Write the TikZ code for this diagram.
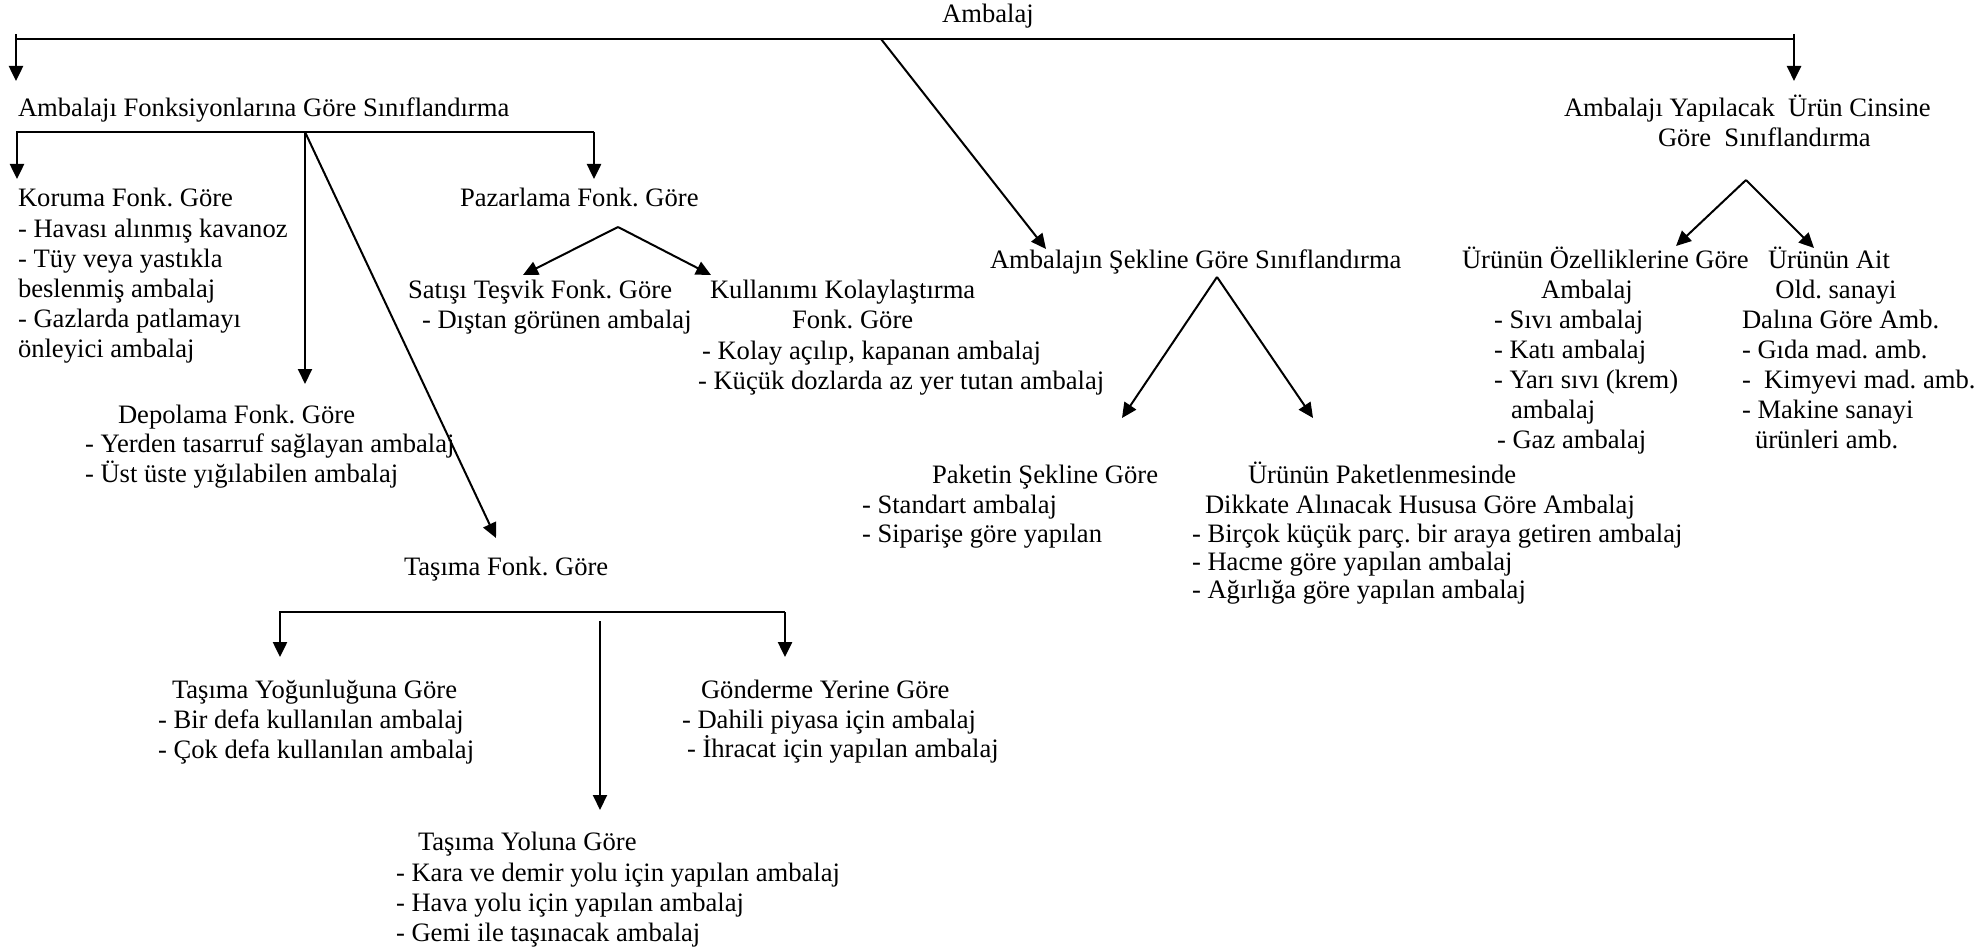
\documentclass[tikz,border=0pt]{standalone}
\usepackage{fontspec}
\setmainfont{Liberation Serif}
\usetikzlibrary{arrows.meta}
\begin{document}
\begin{tikzpicture}[x=1pt,y=-1pt,
  txt/.style={inner sep=0pt,outer sep=0pt,anchor=base west,font=\fontsize{26.6}{30}\selectfont\frenchspacing},
  ctxt/.style={txt,anchor=base},
  conn/.style={line width=2.5pt,line join=miter},
  diag/.style={line width=2pt},
  tip/.style={-{Triangle[length=15pt,width=14pt]}}]
\useasboundingbox (0,0) rectangle (1977,952);
% ---------- texts ----------
\node[ctxt] (root) at (988,23) {Ambalaj};
\node[txt] (fonk) at (18,117) {Ambalajı Fonksiyonlarına Göre Sınıflandırma};
\node[txt] (cins1) at (1564,117) {Ambalajı Yapılacak~ Ürün Cinsine};
\node[txt] (cins2) at (1658,147) {Göre~ Sınıflandırma};
\node[txt] (sekil) at (990,268) {Ambalajın Şekline Göre Sınıflandırma};
% Koruma
\node[txt] (kor1) at (18,207) {Koruma Fonk. Göre};
\node[txt] (kor2) at (18,237) {- Havası alınmış kavanoz};
\node[txt] (kor3) at (18,267) {- Tüy veya yastıkla};
\node[txt] (kor4) at (18,297) {beslenmiş ambalaj};
\node[txt] (kor5) at (18,327) {- Gazlarda patlamayı};
\node[txt] (kor6) at (18,357) {önleyici ambalaj};
% Pazarlama
\node[txt] (paz) at (460,207) {Pazarlama Fonk. Göre};
\node[txt] (sat1) at (408,298) {Satışı Teşvik Fonk. Göre};
\node[txt] (sat2) at (422,328) {- Dıştan görünen ambalaj};
\node[txt] (kul1) at (710,298) {Kullanımı Kolaylaştırma};
\node[txt] (kul2) at (792,328) {Fonk. Göre};
\node[txt] (kul3) at (702,359) {- Kolay açılıp, kapanan ambalaj};
\node[txt] (kul4) at (698,389) {- Küçük dozlarda az yer tutan ambalaj};
% Depolama
\node[txt] (dep1) at (118,423) {Depolama Fonk. Göre};
\node[txt] (dep2) at (85,452) {- Yerden tasarruf sağlayan ambalaj};
\node[txt] (dep3) at (85,482) {- Üst üste yığılabilen ambalaj};
% Tasima
\node[txt] (tas) at (404,575) {Taşıma Fonk. Göre};
\node[txt] (yog1) at (172,698) {Taşıma Yoğunluğuna Göre};
\node[txt] (yog2) at (158,728) {- Bir defa kullanılan ambalaj};
\node[txt] (yog3) at (158,758) {- Çok defa kullanılan ambalaj};
\node[txt] (gon1) at (701,698) {Gönderme Yerine Göre};
\node[txt] (gon2) at (682,728) {- Dahili piyasa için ambalaj};
\node[txt] (gon3) at (687,757) {- İhracat için yapılan ambalaj};
\node[txt] (yol1) at (418,850) {Taşıma Yoluna Göre};
\node[txt] (yol2) at (396,881) {- Kara ve demir yolu için yapılan ambalaj};
\node[txt] (yol3) at (396,911) {- Hava yolu için yapılan ambalaj};
\node[txt] (yol4) at (396,941) {- Gemi ile taşınacak ambalaj};
% Sekil
\node[txt] (pak1) at (932,483) {Paketin Şekline Göre};
\node[txt] (pak2) at (862,513) {- Standart ambalaj};
\node[txt] (pak3) at (862,542) {- Siparişe göre yapılan};
\node[txt] (dik1) at (1248,483) {Ürünün Paketlenmesinde};
\node[txt] (dik2) at (1205,513) {Dikkate Alınacak Hususa Göre Ambalaj};
\node[txt] (dik3) at (1192,542) {- Birçok küçük parç. bir araya getiren ambalaj};
\node[txt] (dik4) at (1192,570) {- Hacme göre yapılan ambalaj};
\node[txt] (dik5) at (1192,598) {- Ağırlığa göre yapılan ambalaj};
% Urun cinsi
\node[txt] (oz1) at (1462,268) {Ürünün Özelliklerine Göre};
\node[ctxt] (oz2) at (1587,298) {Ambalaj};
\node[txt] (oz3) at (1494,328) {- Sıvı ambalaj};
\node[txt] (oz4) at (1494,358) {- Katı ambalaj};
\node[txt] (oz5) at (1494,388) {- Yarı sıvı (krem)};
\node[txt] (oz6) at (1511,418) {ambalaj};
\node[txt] (oz7) at (1497,448) {- Gaz ambalaj};
\node[txt] (ait1) at (1768,268) {Ürünün Ait};
\node[ctxt] (ait2) at (1836,298) {Old. sanayi};
\node[txt] (ait3) at (1742,328) {Dalına Göre Amb.};
\node[txt] (ait4) at (1742,358) {- Gıda mad. amb.};
\node[txt] (ait5) at (1742,388) {-~ Kimyevi mad. amb.};
\node[txt] (ait6) at (1742,418) {- Makine sanayi};
\node[txt] (ait7) at (1755,448) {ürünleri amb.};
% ---------- coordinates ----------
\coordinate (tL) at (16,39);   \coordinate (tLs) at (16,34);  \coordinate (tLe) at (16,81);
\coordinate (tR) at (1794,39); \coordinate (tRs) at (1794,34); \coordinate (tRe) at (1794,81);
\coordinate (tD) at (881,39);  \coordinate (tDe) at (1046,249);
\coordinate (fL) at (17,132);  \coordinate (fLe) at (17,179);
\coordinate (fR) at (594,132); \coordinate (fRe) at (594,179);
\coordinate (fM) at (305,132); \coordinate (fMe) at (305,384);
\coordinate (fDe) at (496,538);
\coordinate (pA) at (618,227); \coordinate (pL) at (523,275); \coordinate (pR) at (711,275);
\coordinate (sA) at (1217,277); \coordinate (sL) at (1122,418); \coordinate (sR) at (1313,418);
\coordinate (cA) at (1746,180); \coordinate (cL) at (1676,246); \coordinate (cR) at (1814,248);
\coordinate (hL) at (280,612); \coordinate (hLe) at (280,657);
\coordinate (hR) at (785,612); \coordinate (hRe) at (785,657);
\coordinate (hM) at (600,621); \coordinate (hMe) at (600,810);
% ---------- connectors ----------
\draw[conn] (tL) -- (tR);
\draw[conn,tip] (tLs) -- (tLe);
\draw[conn,tip] (tRs) -- (tRe);
\draw[diag,tip] (tD) -- (tDe);
\draw[conn,tip] (fR) -- (fL) -- (fLe);
\draw[conn,tip] (fR) -- (fRe);
\draw[diag,tip] (fM) -- (fMe);
\draw[diag,tip] (fM) -- (fDe);
\draw[diag,tip] (pA) -- (pL);
\draw[diag,tip] (pA) -- (pR);
\draw[diag,tip] (sA) -- (sL);
\draw[diag,tip] (sA) -- (sR);
\draw[diag,tip] (cA) -- (cL);
\draw[diag,tip] (cA) -- (cR);
\draw[conn,tip] (hR) -- (hL) -- (hLe);
\draw[conn,tip] (hR) -- (hRe);
\draw[diag,tip] (hM) -- (hMe);
\end{tikzpicture}
\end{document}
